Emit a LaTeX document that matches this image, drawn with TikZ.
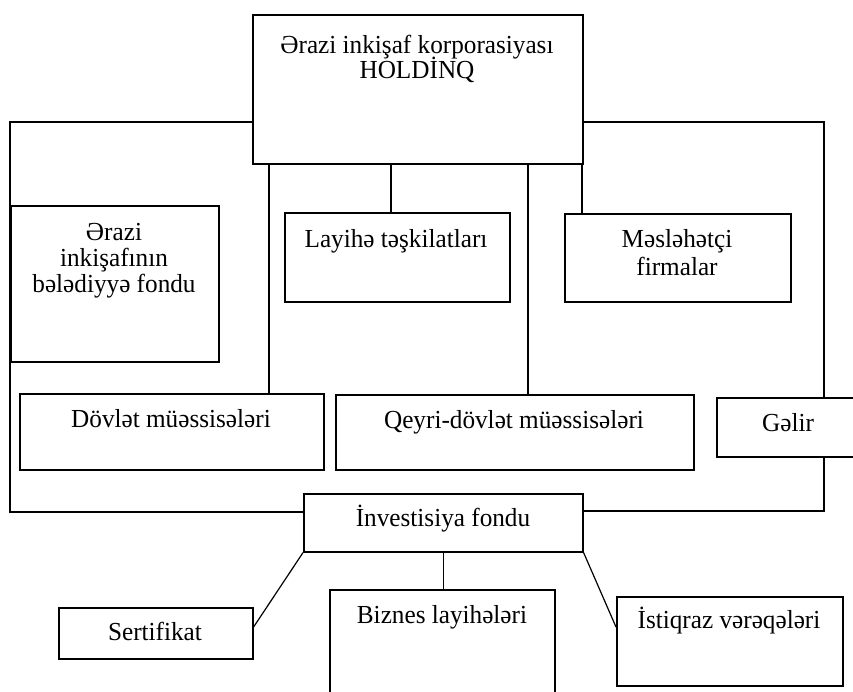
\documentclass[tikz,border=0pt]{standalone}
\usepackage{fontspec}
\setmainfont[FakeStretch=0.97]{Liberation Serif}
\tikzset{
  box/.style={draw, line width=1.6pt, inner sep=0pt, anchor=north west},
  lbl/.style={anchor=base, inner sep=0pt, font=\fontsize{26}{29}\selectfont},
  wire/.style={line width=1.2pt},
}
\begin{document}
\begin{tikzpicture}[x=1pt,y=-1pt]
\useasboundingbox (0,0) rectangle (853,691);
% boxes
\node[box, minimum width=330pt, minimum height=149pt] (top) at (252,14) {};
\node[box, minimum width=208pt, minimum height=156pt] (fond) at (10,205) {};
\node[box, minimum width=225pt, minimum height=89pt] (lay) at (284,212) {};
\node[box, minimum width=226pt, minimum height=88pt] (mes) at (564,213) {};
\node[box, minimum width=304pt, minimum height=76pt] (dov) at (19,393) {};
\node[box, minimum width=358pt, minimum height=75pt] (qey) at (335,394) {};
\node[box, minimum width=142pt, minimum height=59pt] (gel) at (716,397) {};
\node[box, minimum width=279pt, minimum height=58pt] (inv) at (303,493) {};
\node[box, minimum width=194pt, minimum height=51pt] (ser) at (58,607) {};
\node[box, minimum width=225pt, minimum height=115pt] (biz) at (329,589) {};
\node[box, minimum width=226pt, minimum height=89pt] (ist) at (616,596) {};
% texts
\node[lbl] (top1) at (417,53) {Ərazi inkişaf korporasiyası};
\node[lbl] (top2) at (417,78) {HOLDİNQ};
\node[lbl] (fond1) at (114,240) {Ərazi};
\node[lbl] (fond2) at (114,266) {inkişafının};
\node[lbl] (fond3) at (114,292) {bələdiyyə fondu};
\node[lbl] (layt) at (396,247) {Layihə təşkilatları};
\node[lbl] (mes1) at (677,247) {Məsləhətçi};
\node[lbl] (mes2) at (677,275) {firmalar};
\node[lbl] (dovt) at (171,427) {Dövlət müəssisələri};
\node[lbl] (qeyt) at (514,428) {Qeyri-dövlət müəssisələri};
\node[lbl] (gelt) at (788,431) {Gəlir};
\node[lbl] (invt) at (443,526) {İnvestisiya fondu};
\node[lbl] (sert) at (155,640) {Sertifikat};
\node[lbl] (bizt) at (442,623) {Biznes layihələri};
\node[lbl] (istt) at (729,628) {İstiqraz vərəqələri};
% helper coordinates
\coordinate (cl1) at (10,122);
\coordinate (cl2) at (10,512);
\coordinate (cr1) at (824,122);
\coordinate (cr2) at (824,511);
\coordinate (vx1) at (269,0);
\coordinate (vx2) at (391,0);
\coordinate (vx3) at (528,0);
\coordinate (vx4) at (582,0);
\coordinate (sy) at (0,627);
% connectors
\draw[wire] (top.west |- cl1) -- (cl1) -- (cl2) -- (inv.west |- cl2);
\draw[wire] (top.east |- cr1) -- (cr1) -- (cr1 |- gel.north);
\draw[wire] (cr2 |- gel.south) -- (cr2) -- (inv.east |- cr2);
\draw[wire] (top.south -| vx1) -- (dov.north -| vx1);
\draw[wire] (top.south -| vx2) -- (lay.north -| vx2);
\draw[wire] (top.south -| vx3) -- (qey.north -| vx3);
\draw[wire] (top.south -| vx4) -- (mes.north -| vx4);
\draw[wire] (inv.south west) -- (ser.east |- sy);
\draw[wire] (inv.south) -- (inv.south |- biz.north);
\draw[wire] (inv.south east) -- (ist.west |- sy);
\end{tikzpicture}
\end{document}
